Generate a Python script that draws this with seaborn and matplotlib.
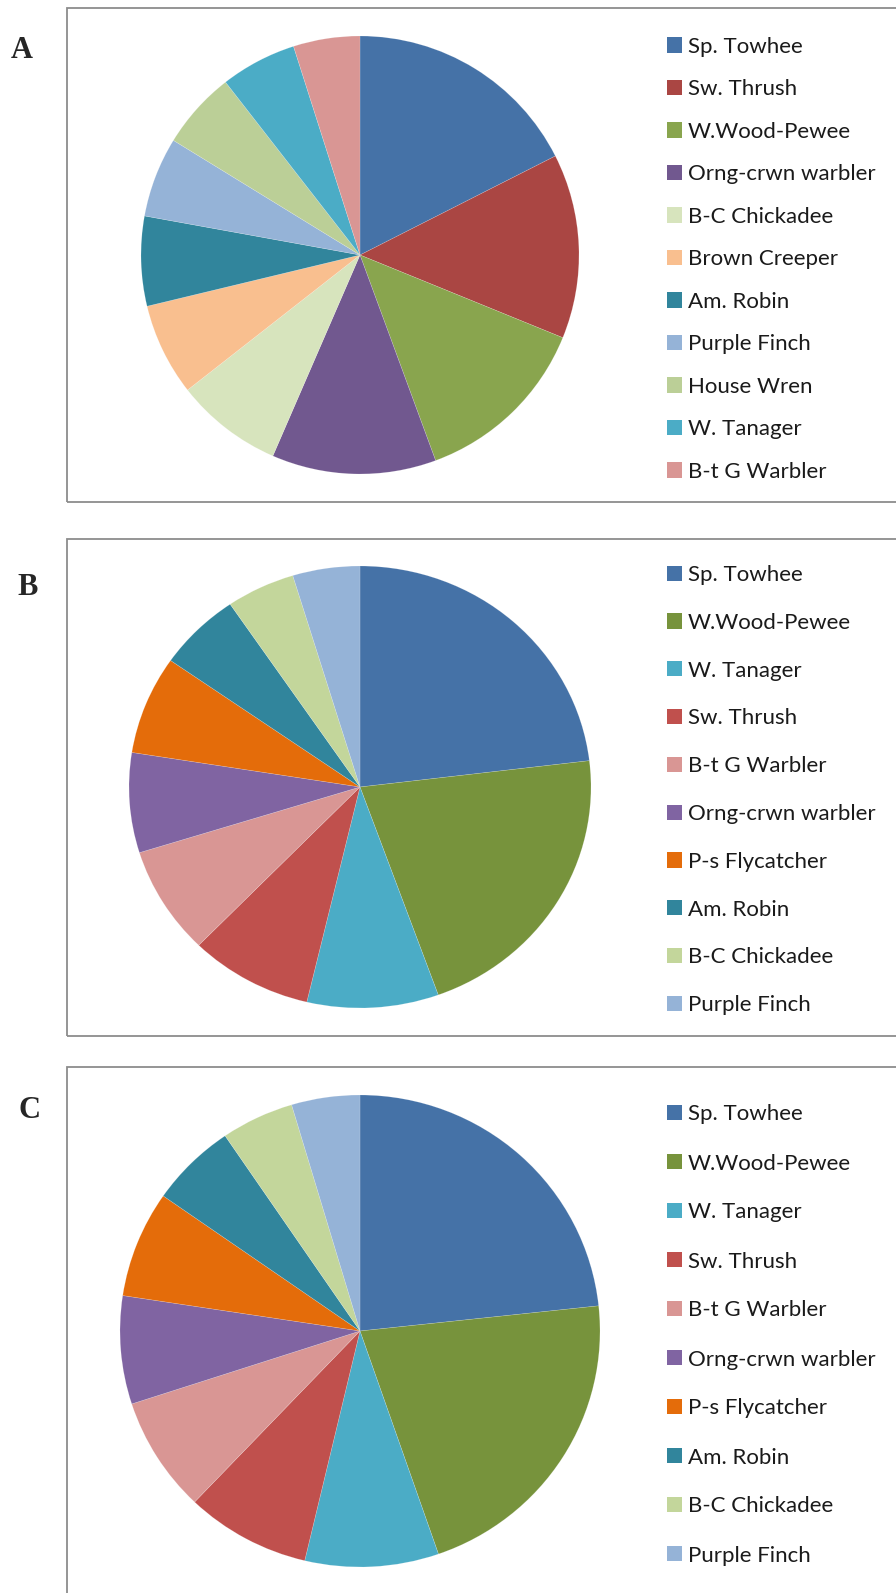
import matplotlib
matplotlib.use("Agg")
import matplotlib.pyplot as plt
import matplotlib.patches as mpatches
import seaborn as sns

sns.set_theme(style="white")
plt.rcParams["font.family"] = ["Lato", "DejaVu Sans"]

# ---- data -------------------------------------------------------------
species_a = ["Sp. Towhee", "Sw. Thrush", "W.Wood-Pewee", "Orng-crwn warbler",
             "B-C Chickadee", "Brown Creeper", "Am. Robin", "Purple Finch",
             "House Wren", "W. Tanager", "B-t G Warbler"]
share_a = [17.5, 13.6, 13.2, 12.1, 7.9, 6.8, 6.6, 5.9, 5.7, 5.6, 4.9]
colors_a = ["#4572A7", "#AA4643", "#89A54E", "#71588F", "#D7E4BD", "#F9BF8F",
            "#31859C", "#95B3D7", "#BBCF97", "#4BACC6", "#D99694"]

species_b = ["Sp. Towhee", "W.Wood-Pewee", "W. Tanager", "Sw. Thrush",
             "B-t G Warbler", "Orng-crwn warbler", "P-s Flycatcher",
             "Am. Robin", "B-C Chickadee", "Purple Finch"]
share_b = [23.1, 21.4, 9.2, 8.6, 7.9, 7.3, 7.2, 5.8, 4.8, 4.7]

species_c = ["Sp. Towhee", "W.Wood-Pewee", "W. Tanager", "Sw. Thrush",
             "B-t G Warbler", "Orng-crwn warbler", "P-s Flycatcher",
             "Am. Robin", "B-C Chickadee", "Purple Finch"]
share_c = [23.3, 21.4, 9.0, 8.4, 7.9, 7.4, 7.3, 5.8, 4.9, 4.6]

colors_bc = ["#4572A7", "#77933C", "#4BACC6", "#C0504D", "#D99694",
             "#8064A2", "#E46C0A", "#31859C", "#C3D69B", "#95B3D7"]

panel_letters = ["A", "B", "C"]

# ---- layout (pixels) --------------------------------------------------
W, H = 896, 1593
fig = plt.figure(figsize=(W / 100, H / 100), dpi=100)
fig.patch.set_facecolor("white")


def fx(x):
    return x / W


def fy(y):
    return 1 - y / H


panels = [
    # letter pos, frame (top, bottom), pie (cx, cy, rx, ry), legend (x, first row centre, pitch)
    dict(letter=(22, 51), frame=(8, 502), pie=(360, 255, 219, 219), leg=(667, 46.8, 42.5)),
    dict(letter=(28, 587), frame=(539, 1036), pie=(360, 787, 231, 221), leg=(667, 575, 47.8)),
    dict(letter=(29, 1110), frame=(1067, 1640), pie=(360, 1331, 240, 236), leg=(667, 1114.5, 49.0)),
]
datasets = [(species_a, share_a, colors_a),
            (species_b, share_b, colors_bc),
            (species_c, share_c, colors_bc)]

FS = 16.0          # legend font size in points
fs_px = FS * 100 / 72
row_h = 20.0       # height of one legend text row in pixels

for panel, (labels, values, cols), letter in zip(panels, datasets, panel_letters):
    # chart frame, open on the right where it runs off the page
    top, bottom = panel["frame"]
    frame = mpatches.Rectangle((fx(67), fy(bottom)), fx(1200 - 67), (bottom - top) / H,
                               transform=fig.transFigure, fill=False,
                               edgecolor="#8C8C8C", linewidth=1.3, zorder=0)
    fig.patches.append(frame)

    # panel letter
    lx, ly = panel["letter"]
    fig.text(fx(lx), fy(ly), letter, ha="center", va="center",
             family=["Liberation Serif", "DejaVu Serif"], weight="bold", fontsize=22)

    # pie
    cx, cy, rx, ry = panel["pie"]
    ax = fig.add_axes([fx(cx - rx), fy(cy + ry), 2 * rx / W, 2 * ry / H])
    wedges, _ = ax.pie(values, colors=cols, startangle=90, counterclock=False,
                       radius=1.0,
                       wedgeprops=dict(edgecolor=(1, 1, 1, 0.25), linewidth=0.4))
    ax.set_aspect("auto")
    ax.set_xlim(-1, 1)
    ax.set_ylim(-1, 1)
    ax.axis("off")

    # legend
    lgx, first_c, pitch = panel["leg"]
    handles = [mpatches.Patch(facecolor=c, edgecolor="none") for c in cols]
    fig.legend(handles, labels, loc="upper left",
               bbox_to_anchor=(fx(lgx), fy(first_c - row_h / 2)),
               bbox_transform=fig.transFigure, frameon=False,
               fontsize=FS, handlelength=15 / fs_px, handleheight=15 / fs_px,
               handletextpad=6 / fs_px, labelspacing=(pitch - row_h) / fs_px,
               borderpad=0, borderaxespad=0, labelcolor="#1A1A1A")

fig.savefig("out.png", dpi=100, facecolor="white")
